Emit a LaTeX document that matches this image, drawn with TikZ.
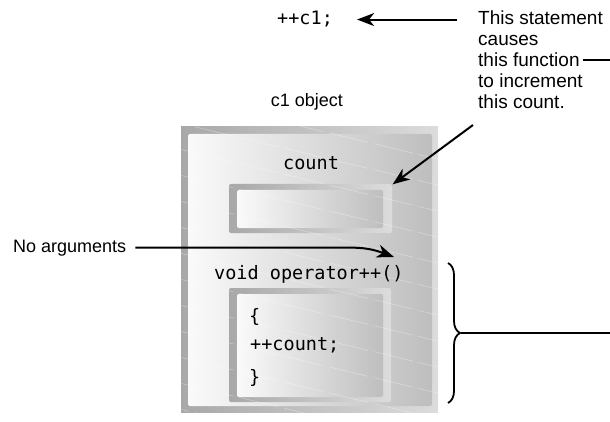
\documentclass[tikz,border=0pt]{standalone}
\usepackage{fontspec}
\setmainfont{Liberation Sans}
\setmonofont{DejaVu Sans Mono}
\usepackage{tikz}
\usetikzlibrary{
  positioning,
  arrows.meta,
  decorations.pathreplacing,
  calc
}
\definecolor{FrameDark}{RGB}{168,168,168}
\definecolor{FrameLight}{RGB}{220,220,220}
\definecolor{FillLight}{RGB}{250,250,250}
\definecolor{FillDark}{RGB}{190,190,190}

\begin{document}
\begin{tikzpicture}[
  x=1pt, y=-1pt,
  >=Stealth,
  lbl/.style={inner sep=0pt, anchor=base west,
    font=\fontsize{18}{20}\selectfont},
  note/.style={lbl, font=\fontsize{19}{21}\selectfont},
  code/.style={inner sep=0pt, anchor=base west,
    font=\ttfamily\fontsize{18.5}{20}\selectfont},
  framebox/.style={draw=none, inner sep=0pt,
    left color=FrameDark, right color=FrameLight},
  fillbox/.style={draw=none, inner sep=0pt, rounded corners=2pt,
    left color=FillLight, right color=FillDark},
  arr/.style={->, line width=2pt, black,
    arrows={-Stealth[length=17pt, width=13pt, inset=5pt]}},
  wire/.style={line width=2pt, black},
  texture/.style={white, opacity=0.35, line width=0.6pt,
    dash pattern=on 40pt off 6pt},
]
  \useasboundingbox (0,0) rectangle (610,422);

  % ========== 对象外框 ==========
  \node[framebox, minimum width=257pt, minimum height=285pt]
    (obj) at (309.5,269.5) {};
  \node[fillbox, minimum width=244pt, minimum height=272pt]
    (objin) at (310,270) {};

  % ========== count 框 ==========
  \node[framebox, rounded corners=2pt, minimum width=163pt, minimum height=49pt]
    (countbox) at (310.5,208.5) {};
  \node[fillbox, minimum width=146pt, minimum height=38pt]
    (countin) at (310,209) {};

  % ========== 函数体框 ==========
  \node[framebox, rounded corners=2pt, minimum width=162pt, minimum height=114pt]
    (bodybox) at (310,345) {};
  \node[fillbox, minimum width=146pt, minimum height=103pt]
    (bodyin) at (310,345.5) {};

  % 背景细纹（仅在外框内）
  \begin{scope}
    \clip (obj.south west) rectangle (obj.north east);
    \foreach \k in {0,...,13}
      \draw[texture] (150,90+\k*26) -- ++(300,72);
  \end{scope}

  % ========== 文字 ==========
  \node[code] (stmt) at (277,25) {++c1;};
  \node[note] (l1) at (478,25) {This statement};
  \node[note] (l2) at (478,46) {causes};
  \node[note] (l3) at (478,67) {this function};
  \node[note] (l4) at (478,88) {to increment};
  \node[note] (l5) at (478,109) {this count.};
  \node[lbl, anchor=base] (objlbl) at (307,107) {c1 object};
  \node[code] (countlbl) at (283,170) {count};
  \node[code] (oplbl) at (214,279) {void operator++()};
  \node[code] (ob) at (249,322) {\{};
  \node[code] (incr) at (250,350) {++count;};
  \node[code] (cb) at (249,383) {\}};
  \node[lbl] (noargs) at (13,252) {No arguments};

  % ========== 连线 ==========
  % 说明 → ++c1;
  \draw[arr, shorten <=21pt, shorten >=24pt] (stmt.east -| l1.west) -- (stmt.east);
  % this function —— 右侧出线
  \coordinate (fedge) at (610,0);
  \draw[wire, shorten <=3pt] (l3.east) -- (l3.east -| fedge);
  % this count → count 框
  \coordinate (cstart) at (473,125);
  \draw[arr] (cstart) -- ([shift={(0.5,0.5)}]countbox.north east);
  % No arguments → 函数名
  \coordinate (argtip) at (394,257);
  \coordinate (argbend) at (352,0);
  \draw[arr, shorten <=9pt] (noargs.east) -- (noargs.east -| argbend)
    to[out=0, in=160] (argtip);

  % ========== 右侧括号 ==========
  \coordinate (btop) at (448,263);
  \coordinate (bbot) at (448,403);
  \coordinate (bmid) at (461,333);
  \coordinate (bedge) at (610,333);
  \draw[wire, line width=1.8pt, decorate,
    decoration={brace, amplitude=12pt}] (btop) -- (bbot);
  \draw[wire] (bmid) -- (bedge);

\end{tikzpicture}
\end{document}
